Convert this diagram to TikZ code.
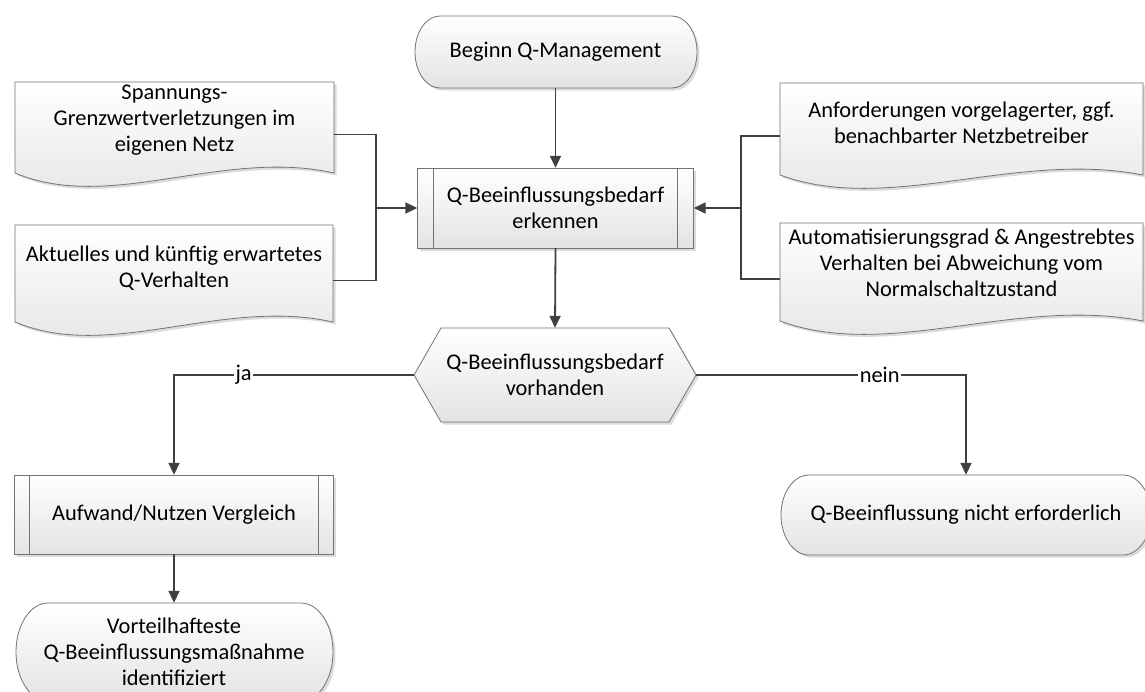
\documentclass[tikz,border=0pt]{standalone}
\usepackage{fontspec}
\setmainfont{Carlito}
\usetikzlibrary{arrows.meta}
\newcommand\liftby[2]{\raisebox{#1}[\height][\depth]{\begin{tabular}{@{}c@{}}#2\end{tabular}}}
\tikzset{
  shapestyle/.style={draw=black!55, line width=0.8pt, top color=white, bottom color=black!11,
    preaction={fill=black!14, transform canvas={shift={(2.5pt,-2.5pt)}}}},
  innerline/.style={draw=black!55, line width=0.8pt},
  conn/.style={draw=black!75, line width=1.8pt},
  arrow/.style={conn, -{Triangle[length=12pt,width=11pt]}},
  txt/.style={font=\fontsize{22.4}{26}\selectfont, align=center, inner sep=0pt},
  lbl/.style={font=\fontsize{22.4}{26}\selectfont, fill=white, inner sep=1.5pt},
}
% L R T B rx
\newcommand\termshape[5]{%
  \pgfmathsetmacro\tcy{(#3+#4)/2}\pgfmathsetmacro\thk{0.5523*(#4-#3)/2}\pgfmathsetmacro\trk{0.5523*#5}%
  \path[shapestyle] ({#1+#5},#3) -- ({#2-#5},#3)
    .. controls ({#2-#5+\trk},#3) and (#2,{\tcy-\thk}) .. (#2,\tcy)
    .. controls (#2,{\tcy+\thk}) and ({#2-#5+\trk},#4) .. ({#2-#5},#4)
    -- ({#1+#5},#4)
    .. controls ({#1+#5-\trk},#4) and (#1,{\tcy+\thk}) .. (#1,\tcy)
    .. controls (#1,{\tcy-\thk}) and ({#1+#5-\trk},#3) .. ({#1+#5},#3) -- cycle;}
% L R T B inset
\newcommand\procshape[5]{%
  \path[shapestyle] (#1,#3) rectangle (#2,#4);
  \draw[innerline] ({#1+#5},#3) -- ({#1+#5},#4) ({#2-#5},#3) -- ({#2-#5},#4);}
% L R T B inset
\newcommand\hexshape[5]{%
  \pgfmathsetmacro\hcy{(#3+#4)/2}%
  \path[shapestyle] (#1,\hcy) -- ({#1+#5},#3) -- ({#2-#5},#3) -- (#2,\hcy) -- ({#2-#5},#4) -- ({#1+#5},#4) -- cycle;}
% L R T sidebottom
\newcommand\docshape[4]{%
  \pgfmathsetmacro\dwa{#2-0.35*(#2-#1)}\pgfmathsetmacro\dwb{#1+0.3*(#2-#1)}%
  \path[shapestyle] (#1,#3) -- (#2,#3) -- (#2,#4) .. controls (\dwa,{#4-25}) and (\dwb,{#4+40}) .. (#1,#4) -- cycle;}
\begin{document}
\begin{tikzpicture}[x=1pt,y=-1pt]
\useasboundingbox (0,0) rectangle (1145,691);
\fill[white] (0,0) rectangle (1145,691);
\clip (0,0) rectangle (1145,691);

% shapes
\termshape{415}{697}{16}{88}{25}
\procshape{417}{693}{168}{248}{16}
\docshape{15}{334}{82}{173}
\docshape{15}{333}{225}{322}
\docshape{780}{1143}{83}{175}
\docshape{780}{1143}{223}{321}
\hexshape{414}{696}{328}{422}{27}
\procshape{14}{333}{475}{554}{15}
\termshape{16}{333}{603}{701}{32}
\termshape{781}{1151}{475}{555}{28}

% nodes
\node[txt, minimum width=282pt, minimum height=72pt] (beg) at (555.5,52) {Beginn Q-Management};
\node[txt, minimum width=276pt, minimum height=80pt] (erk) at (555.5,208) {Q-Beeinflussungsbedarf\\erkennen};
\node[txt, minimum width=319pt, minimum height=105pt] (doc1) at (174.5,134.5)
  {\liftby{14pt}{Spannungs-\\Grenzwertverletzungen im\\eigenen Netz}};
\node[txt, minimum width=318pt, minimum height=111pt] (doc2) at (174,280.5)
  {\liftby{11.5pt}{Aktuelles und künftig erwartetes\\Q-Verhalten}};
\node[txt, minimum width=363pt, minimum height=106pt] (doc3) at (961.5,136)
  {\liftby{11pt}{Anforderungen vorgelagerter, ggf.\\benachbarter Netzbetreiber}};
\node[txt, minimum width=363pt, minimum height=112pt] (doc4) at (961.5,279)
  {\liftby{14pt}{Automatisierungsgrad \& Angestrebtes\\Verhalten bei Abweichung vom\\Normalschaltzustand}};
\node[txt, minimum width=282pt, minimum height=94pt] (hex) at (555,375) {Q-Beeinflussungsbedarf\\vorhanden};
\node[txt, minimum width=319pt, minimum height=79pt] (auf) at (174,514.5) {Aufwand/Nutzen Vergleich};
\node[txt, minimum width=317pt, minimum height=98pt] (vor) at (174,652) {Vorteilhafteste\\Q-Beeinflussungsmaßnahme\\identifiziert};
\node[txt, minimum width=370pt, minimum height=80pt] (nicht) at (966,515) {Q-Beeinflussung nicht erforderlich};

% connectors
\coordinate (busL) at (376,208);
\coordinate (busR) at (741,208);
\draw[conn] (doc1.east) -| (busL);
\draw[conn] (doc2.east) -| (busL);
\draw[arrow] (busL) -- (erk.west);
\draw[conn] (doc3.west) -| (busR);
\draw[conn] (doc4.west) -| (busR);
\draw[arrow] (busR) -- (erk.east);
\draw[arrow] (beg.south) -- (erk.north);
\draw[arrow] (erk.south) -- (hex.north);
\draw[arrow] (hex.west) -| node[lbl, pos=0.355] {ja} (auf.north);
\draw[arrow] (hex.east) -| node[lbl, pos=0.34] {nein} (nicht.north);
\draw[arrow] (auf.south) -- (vor.north);
\end{tikzpicture}
\end{document}
